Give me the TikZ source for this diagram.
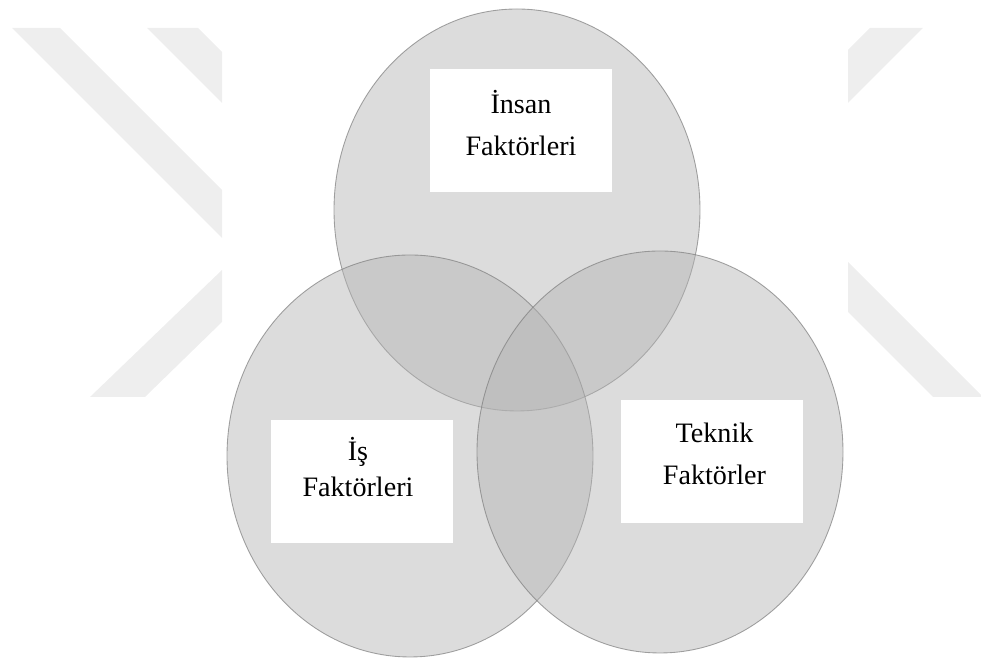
\documentclass[tikz,border=0pt]{standalone}
\usepackage{fontspec}
\setmainfont{Liberation Serif}
\newfontfamily\venntext{Liberation Serif}
\usepackage{xcolor}
\usepackage{tikz}
\usetikzlibrary{shapes.geometric, positioning}
\definecolor{VennGray}{RGB}{179,179,179}
\definecolor{VennEdge}{RGB}{125,125,125}
\definecolor{MarkGray}{RGB}{238,238,238}

\begin{document}
\begin{tikzpicture}[
            venn/.style={ellipse, minimum width=7.32cm, minimum height=8.04cm,
                        fill=VennGray, fill opacity=0.46,
                        draw=VennEdge, draw opacity=0.7, line width=0.5pt},
            box/.style={rectangle, fill=white, inner sep=0pt,
                        minimum width=3.64cm, minimum height=2.46cm},
            lbl/.style={align=center, inner sep=0pt,
                        font=\venntext\fontsize{16}{24}\selectfont}
          ]
          \useasboundingbox (0,0) rectangle (19.62,13.26);

          % Background marks
          \fill[MarkGray] (0.24,12.70) -- (1.20,12.70) -- (4.44,9.46)
                -- (4.44,8.50) -- cycle;
          \fill[MarkGray] (2.94,12.70) -- (3.96,12.70) -- (4.44,12.22)
                -- (4.44,11.20) -- cycle;
          \fill[MarkGray] (4.44,7.86) -- (4.44,6.82) -- (2.90,5.32)
                -- (1.80,5.32) -- cycle;
          \fill[MarkGray] (17.40,12.70) -- (18.46,12.70) -- (16.96,11.20)
                -- (16.96,12.26) -- cycle;
          \fill[MarkGray] (16.96,8.02) -- (19.62,5.36) -- (19.62,5.32)
                -- (18.66,5.32) -- (16.96,7.02) -- cycle;

          % Sets
          \node[venn] (insanset)  at (10.34, 9.06) {};
          \node[venn] (isset)     at (8.20,  4.14) {};
          \node[venn] (teknikset) at (13.20, 4.22) {};

          % Labels
          \node[box] (insanbox)  at (10.41, 10.64) {};
          \node[lbl] (insantxt)  at (10.42, 10.80) {İnsan\\Faktörleri};

          \node[box] (isbox)     at (7.24,  3.62) {};
          \node[lbl, font=\venntext\fontsize{16}{20.5}\selectfont]
                (istxt) at (7.16, 3.91) {İş\\Faktörleri};

          \node[box] (teknikbox) at (14.24, 4.03) {};
          \node[lbl] (tekniktxt) at (14.29, 4.18) {Teknik\\Faktörler};
        \end{tikzpicture}
\end{document}
